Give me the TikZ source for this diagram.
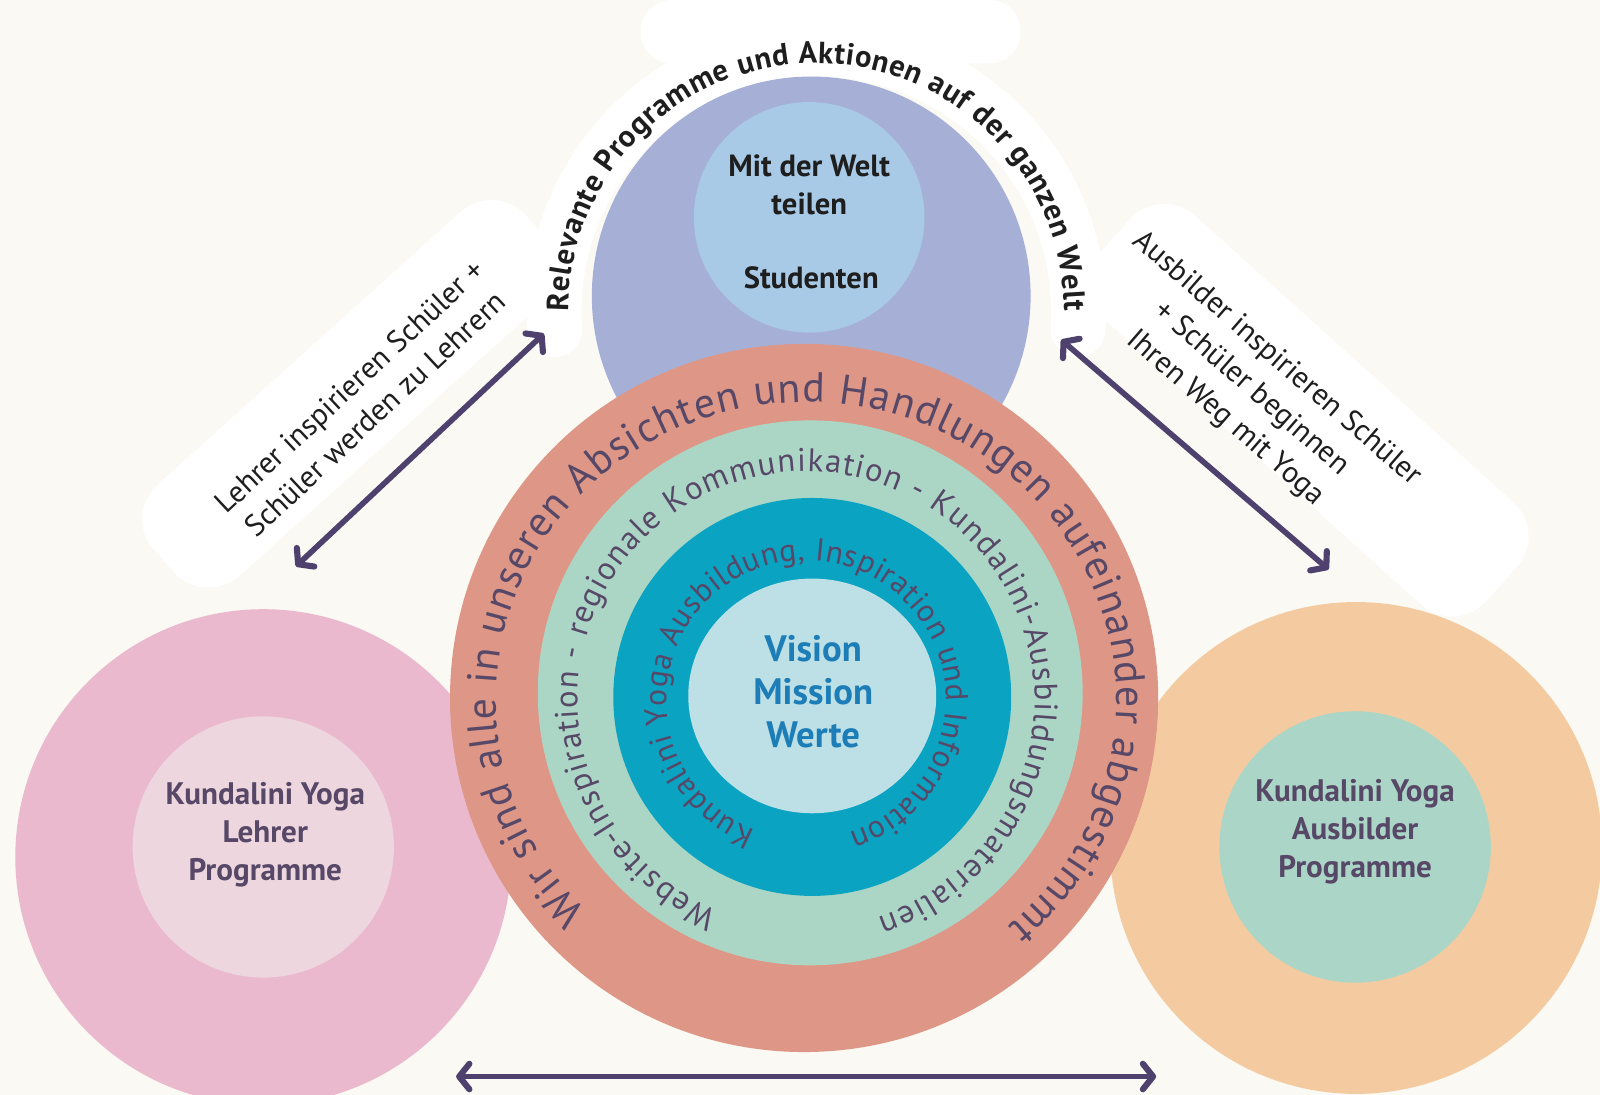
\documentclass[tikz,border=0pt]{standalone}
\usepackage{fontspec}
\setmainfont{PT Sans}
\usetikzlibrary{decorations.text, arrows.meta, shapes.geometric}
\definecolor{bg}{HTML}{FAF9F3}
\definecolor{blueO}{HTML}{A6B0D6}
\definecolor{blueI}{HTML}{A8CAE6}
\definecolor{redR}{HTML}{DE9786}
\definecolor{greenR}{HTML}{ABD6C6}
\definecolor{tealR}{HTML}{0AA3C2}
\definecolor{coreC}{HTML}{BDE0E6}
\definecolor{pinkO}{HTML}{EBB9CE}
\definecolor{pinkI}{HTML}{EDD6DE}
\definecolor{orangeO}{HTML}{F4CBA1}
\definecolor{greenI}{HTML}{ABD5C7}
\definecolor{purp}{HTML}{574868}
\definecolor{visblue}{HTML}{1C7DB7}
\definecolor{arrowc}{HTML}{4E416D}
\definecolor{dark}{HTML}{1E1E1E}
\tikzset{
  disc/.style={circle, inner sep=0pt, outer sep=0pt},
  blob/.style={fill=white, draw=none, rounded corners=45pt, inner sep=0pt},
  arr/.style={draw=arrowc, line width=5.5pt,
    {Straight Barb[length=10pt,width=25pt,line width=6pt,round]}-{Straight Barb[length=10pt,width=25pt,line width=6pt,round]}},
  boldlbl/.style={align=center, text=purp, font=\bfseries\fontsize{30.5}{37}\selectfont},
  diaglbl/.style={align=center, text=dark},
}
\begin{document}
\begin{tikzpicture}[x=1pt,y=1pt]
\useasboundingbox (0,0) rectangle (1568,-1073);
\fill[bg] (0,0) rectangle (1568,-1073);

% centres
\coordinate (ctop) at (800,-305);
\coordinate (cmid) at (790,-686);

% white blobs behind texts
\fill[white, rounded corners=30pt] (628,0) rectangle (1000,-62);
\draw[white, line width=54pt, line cap=round] ([shift={(184:257)}]ctop) arc[start angle=184, end angle=-4, radius=257];
\node[blob, rotate=42, minimum width=490pt, minimum height=120pt] (lblob) at (343,-386) {};
\node[blob, rotate=-42, minimum width=510pt, minimum height=135pt] (rblob) at (1282,-402) {};

% discs
\node[disc, fill=blueO, minimum size=430pt] (blue) at (795,-290) {};
\node[disc, fill=blueI, minimum size=226pt] (bluei) at (793,-213) {};
\node[disc, fill=pinkO, minimum size=486pt] (pink) at (258,-840) {};
\node[disc, fill=pinkI, minimum size=256pt] (pinki) at (258,-830) {};
\node[disc, fill=orangeO, minimum size=482pt] (orange) at (1329,-831) {};
\node[disc, fill=greenI, minimum size=266pt] (orangei) at (1328,-830) {};
\node[disc, fill=redR, minimum size=694pt] (red) at (788,-684) {};
\node[disc, fill=greenR, minimum size=534pt] (green) at (794,-679) {};
\node[disc, fill=tealR, minimum size=390pt] (teal) at (796,-683) {};
\node[ellipse, inner sep=0pt, fill=coreC, minimum width=243pt, minimum height=230pt] (core) at (796,-682) {};

% texts inside discs
\node[align=center, text=dark, font=\bfseries\fontsize{30}{37}\selectfont] (welt) at (793,-181) {Mit der Welt\\teilen};
\node[text=dark, font=\bfseries\fontsize{30}{37}\selectfont] (stud) at (795,-272) {Studenten};
\node[align=center, text=visblue, font=\bfseries\fontsize{36}{42}\selectfont] (vision) at (797,-678) {Vision\\Mission\\Werte};
\node[boldlbl] (lehrer) at (260,-818) {Kundalini Yoga\\Lehrer\\Programme};
\node[boldlbl] (ausb) at (1328,-815) {Kundalini Yoga\\Ausbilder\\Programme};

% curved texts
\path[decorate, decoration={text along path, text align={fit to path},
  text={|\bfseries\fontsize{30}{30}\selectfont\color{dark}|Relevante Programme und Aktionen auf der ganzen Welt}}]
  ([shift={(180:243)}]ctop) arc[start angle=180, end angle=0, radius=243];
\path[decorate, decoration={text along path, text align={fit to path},
  text={|\fontsize{41}{41}\selectfont\color{purp}|Wir sind alle in unseren Absichten und Handlungen aufeinander abgestimmt}}]
  ([shift={(225:304 and 292)}]cmid) arc[start angle=225, end angle=-49.5, x radius=304, y radius=292];
\path[decorate, decoration={text along path, text align={fit to path},
  text={|\fontsize{32}{32}\selectfont\color{purp}|Website-Inspiration - regionale Kommunikation - Kundalini-Ausbildungsmaterialien}}]
  ([shift={(247.3:224)}]cmid) arc[start angle=247.3, end angle=-71.8, radius=224];
\path[decorate, decoration={text along path, text align={fit to path},
  text={|\fontsize{31}{31}\selectfont\color{purp}|Kundalini Yoga Ausbildung, Inspiration und Information}}]
  ([shift={(249:137)}]cmid) arc[start angle=249, end angle=-72, radius=137];

% diagonal labels
\node[diaglbl, rotate=43, font=\fontsize{29.5}{37}\selectfont] (ltext) at (355,-392) {Lehrer inspirieren Schüler +\\Schüler werden zu Lehrern};
\node[diaglbl, rotate=-41, font=\fontsize{29.5}{38.5}\selectfont] (rtext) at (1226,-381) {Ausbilder inspirieren Schüler\\+ Schüler beginnen\\Ihren Weg mit Yoga};

% arrows
\coordinate (la1) at (290,-555);
\coordinate (la2) at (533,-327);
\coordinate (ra1) at (1040,-333);
\coordinate (ra2) at (1302,-558);
\coordinate (ba1) at (447,-1055);
\coordinate (ba2) at (1133,-1055);
\draw[arr] (la1) -- (la2);
\draw[arr] (ra1) -- (ra2);
\draw[arr] (ba1) -- (ba2);
\end{tikzpicture}
\end{document}
